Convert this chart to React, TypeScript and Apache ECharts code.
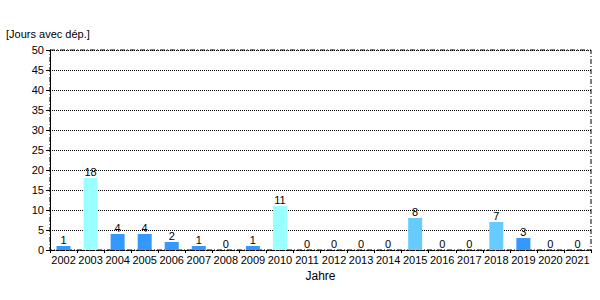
import React, { useEffect, useRef } from "react";
import * as echarts from "echarts";

const years = [
  "2002", "2003", "2004", "2005", "2006", "2007", "2008", "2009", "2010", "2011",
  "2012", "2013", "2014", "2015", "2016", "2017", "2018", "2019", "2020", "2021",
];
const days = [1, 18, 4, 4, 2, 1, 0, 1, 11, 0, 0, 0, 0, 8, 0, 0, 7, 3, 0, 0];
const yTitle = "[Jours avec dép.]";
const xTitle = "Jahre";

function colorFor(v: number): string {
  if (v >= 10) return "#99FFFF";
  if (v >= 5) return "#66CCFF";
  return "#3399FF";
}

export default function App() {
  const ref = useRef<HTMLDivElement>(null);
  useEffect(() => {
    if (!ref.current) return;
    const chart = echarts.init(ref.current, undefined, { renderer: "svg" });
    const font = "Liberation Sans, Arial, sans-serif";
    chart.setOption({
      animation: false,
      backgroundColor: "#ffffff",
      textStyle: { fontFamily: font },
      grid: {
        left: 50,
        right: 9,
        top: 50,
        bottom: 50,
        show: true,
        borderColor: "#000",
        borderWidth: 1,
        borderType: [5, 2, 1, 2],
        backgroundColor: "transparent",
      },
      graphic: [
        {
          type: "text",
          left: 6,
          top: 28,
          style: { text: yTitle, font: `11px ${font}`, fill: "#000" },
        },
      ],
      xAxis: {
        type: "category",
        data: years,
        name: xTitle,
        nameLocation: "middle",
        nameGap: 18,
        nameTextStyle: { color: "#000", fontSize: 12, fontFamily: font },
        boundaryGap: true,
        axisLine: { show: true, lineStyle: { color: "#000", type: [5, 2, 1, 2] } },
        axisTick: { show: true, alignWithLabel: false, length: 3, lineStyle: { color: "#000" } },
        axisLabel: { color: "#000", fontSize: 11, fontFamily: font, margin: 4, interval: 0 },
        splitLine: { show: false },
      },
      yAxis: {
        type: "value",
        min: 0,
        max: 50,
        interval: 5,
        axisLine: { show: true, lineStyle: { color: "#000", width: 1 } },
        axisTick: { show: true, length: 4, lineStyle: { color: "#000" } },
        axisLabel: { color: "#000", fontSize: 11, fontFamily: font, margin: 6 },
        splitLine: { show: true, lineStyle: { color: "#000", type: [1, 1], width: 1 } },
      },
      series: [
        {
          type: "bar",
          data: days.map((v) => ({ value: v, itemStyle: { color: colorFor(v) } })),
          barWidth: 14,
          label: {
            show: true,
            position: "top",
            distance: 1,
            color: "#000",
            fontSize: 11,
            fontFamily: font,
          },
        },
      ],
    });
    return () => chart.dispose();
  }, []);
  return (
    <div
      ref={ref}
      style={{ position: "fixed", left: 0, top: 0, width: 600, height: 300 }}
    />
  );
}
